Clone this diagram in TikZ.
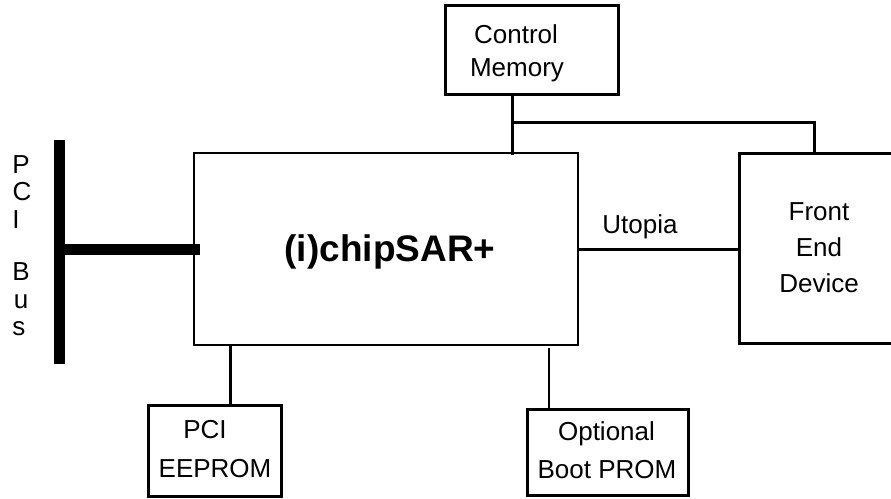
\documentclass[tikz,border=0pt]{standalone}
\usepackage{fontspec}
\setmainfont{Liberation Sans}
\begin{document}
\begin{tikzpicture}[x=1pt,y=-1pt,
  box/.style={draw=black,line width=3pt,inner sep=0pt,outer sep=0pt,anchor=north west},
  main/.style={draw=black,line width=1.8pt,inner sep=0pt,outer sep=0pt,anchor=north west},
  wire/.style={draw=black,line width=3pt},
  thinwire/.style={draw=black,line width=1.8pt},
  bus/.style={draw=black,line width=11pt},
  lbl/.style={font=\fontsize{26}{33}\selectfont,anchor=base,inner sep=0pt}]
\useasboundingbox (0,0) rectangle (891,498);
\node[main,minimum width=384pt,minimum height=192pt] (chip) at (194,153) {};
\node[box,minimum width=173pt,minimum height=89pt] (mem) at (445,5.3) {};
\node[box,minimum width=156pt,minimum height=190pt] (fe) at (739.3,153.3) {};
\node[box,minimum width=133pt,minimum height=90.5pt] (ee) at (148.5,405.5) {};
\node[box,minimum width=161pt,minimum height=86pt] (boot) at (527,409) {};
\node[lbl] (t1) at (516,43) {Control};
\node[lbl] (t2) at (517,76) {Memory};
\node[lbl] (t3) at (819,220) {Front};
\node[lbl] (t4) at (819,256.7) {End};
\node[lbl] (t5) at (819,292.7) {Device};
\node[lbl] (t6) at (205,438) {PCI};
\node[lbl] (t7) at (215,477) {EEPROM};
\node[lbl] (t8) at (606.5,440.7) {Optional};
\node[lbl] (t9) at (607,478) {Boot PROM};
\node[font=\bfseries\fontsize{37}{40}\selectfont,inner sep=0pt,anchor=base] (tchip) at (390,261) {(i)chipSAR+};
\node[lbl] (tut) at (640,233) {Utopia};
\node[lbl] (b1) at (21,173) {P};
\node[lbl] (b2) at (22,200) {C};
\node[lbl] (b3) at (16,228) {I};
\node[lbl] (b4) at (21,280) {B};
\node[lbl] (b5) at (21,308) {u};
\node[lbl] (b6) at (19,335) {s};
\coordinate (bt) at (59.5,140); \coordinate (bb) at (59.5,364);
\coordinate (bm) at (59.5,249.5); \coordinate (be) at (200,249.5);
\draw[bus] (bt) -- (bb);
\draw[bus] (bm) -- (be);
\coordinate (m1) at (512.3,92.7); \coordinate (m2) at (512.3,155.3);
\coordinate (j1) at (512.3,122.3); \coordinate (j2) at (814.3,122.3); \coordinate (j3) at (814.3,155.3);
\draw[wire] (m1) -- (m2);
\draw[wire] (j1) -- (j2) -- (j3);
\draw[wire] (chip.east |- 0,249.3) -- (fe.west |- 0,249.3);
\coordinate (e1) at (230.3,345); \coordinate (e2) at (230.3,405.5);
\draw[wire] (e1) -- (e2);
\coordinate (o1) at (549,348); \coordinate (o2) at (549,409);
\draw[thinwire] (o1) -- (o2);
\end{tikzpicture}
\end{document}
